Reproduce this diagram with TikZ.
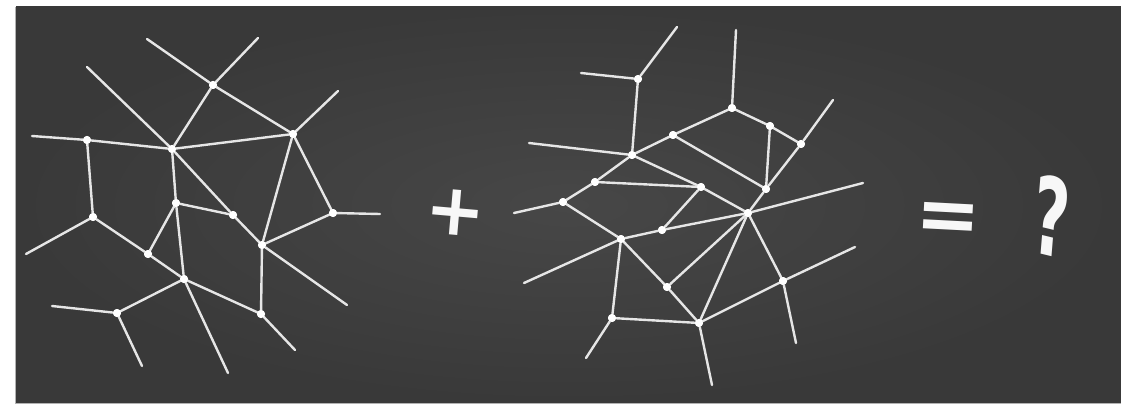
\documentclass[tikz,border=0pt]{standalone}
\usepackage{fontspec}
\newfontfamily\chalkfont{DejaVu Sans}
\definecolor{boardlight}{HTML}{474747}
\definecolor{boarddark}{HTML}{393939}
\definecolor{chalk}{HTML}{E6E6E6}
\begin{document}
\begin{tikzpicture}[x=1pt,y=-1pt,
  dot/.style={circle,fill=white,inner sep=0pt,minimum size=8pt},
  edge/.style={draw=chalk,line width=2.4pt,line cap=round},
  sym/.style={text=white!94!gray,inner sep=0pt}]
\useasboundingbox (0,0) rectangle (1121,406);
\fill[white] (0,0) rectangle (1121,406);
\shade[inner color=boardlight,outer color=boarddark] (16,7) rectangle (1121,403);
\draw[gray!60,line width=0.8pt] (15.5,7) -- (15.5,403.5) -- (1121,403.5);
% ---------- left graph ----------
\node[dot] (A) at (213,85) {};
\node[dot] (B) at (293,134) {};
\node[dot] (C) at (172,149) {};
\node[dot] (D) at (87,140) {};
\node[dot] (E) at (93,217) {};
\node[dot] (F) at (176,203) {};
\node[dot] (G) at (233,215) {};
\node[dot] (H) at (333,213) {};
\node[dot] (I) at (262,245) {};
\node[dot] (J) at (148,254) {};
\node[dot] (K) at (184,279) {};
\node[dot] (L) at (261,314) {};
\node[dot] (M) at (117,313) {};
\coordinate (a1) at (147,39);
\coordinate (a2) at (258,38);
\coordinate (b1) at (338,91);
\coordinate (c1) at (87,67);
\coordinate (i1) at (347,305);
\coordinate (d1) at (32,136);
\coordinate (e1) at (26,254);
\coordinate (k1) at (228,373);
\coordinate (m1) at (52,306);
\coordinate (m2) at (142,366);
\coordinate (l1) at (295,350);
\coordinate (h1) at (380,214);
\foreach \u/\v in {A/a1,A/a2,A/C,A/B,B/b1,B/C,B/H,B/I,C/c1,C/G,G/I,I/i1,C/F,C/D,D/d1,D/E,E/e1,E/J,J/K,J/F,F/K,F/G,K/M,K/L,K/k1,M/m1,M/m2,L/I,L/l1,H/h1,H/I}
  \draw[edge] (\u) -- (\v);
% ---------- right graph ----------
\node[dot] (P1) at (638,79) {};
\node[dot] (P2) at (632,155) {};
\node[dot] (P3) at (673,135) {};
\node[dot] (P4) at (732,108) {};
\node[dot] (P5) at (770,126) {};
\node[dot] (P6) at (801,144) {};
\node[dot] (P7) at (766,189) {};
\node[dot] (P8) at (595,182) {};
\node[dot] (P9) at (701,187) {};
\node[dot] (P10) at (563,202) {};
\node[dot] (P11) at (748,213) {};
\node[dot] (P12) at (662,230) {};
\node[dot] (P13) at (621,239) {};
\node[dot] (P14) at (667,287) {};
\node[dot] (P15) at (783,281) {};
\node[dot] (P16) at (612,318) {};
\node[dot] (P17) at (699,323) {};
\coordinate (p1a) at (677,27);
\coordinate (p1b) at (581,73);
\coordinate (p2a) at (529,143);
\coordinate (p4a) at (736,30);
\coordinate (p6a) at (833,100);
\coordinate (p10a) at (514,213);
\coordinate (p11a) at (863,183);
\coordinate (p13a) at (524,283);
\coordinate (p15a) at (855,247);
\coordinate (p15b) at (796,343);
\coordinate (p16a) at (586,358);
\coordinate (p17a) at (712,385);
\foreach \u/\v in {P1/p1a,P1/p1b,P1/P2,P2/p2a,P2/P3,P3/P4,P4/p4a,P4/P5,P5/P6,P6/p6a,P5/P7,P6/P7,P3/P7,P7/P11,P2/P8,P2/P9,P9/P11,P8/P9,P8/P10,P10/p10a,P10/P13,P13/P12,P12/P11,P9/P12,P13/p13a,P13/P14,P13/P16,P14/P17,P14/P11,P11/P17,P11/P15,P11/p11a,P15/P17,P15/p15a,P15/p15b,P16/P17,P16/p16a,P17/p17a}
  \draw[edge] (\u) -- (\v);
% dots drawn over the lines
\foreach \n in {A,B,C,D,E,F,G,H,I,J,K,L,M,P1,P2,P3,P4,P5,P6,P7,P8,P9,P10,P11,P12,P13,P14,P15,P16,P17}
  \fill[white] (\n) circle (4pt);
% ---------- symbols ----------
\node[sym,font=\chalkfont\bfseries\fontsize{72}{72}\selectfont,rotate=-5] (plus) at (456,213) {+};
\node[sym,font=\chalkfont\bfseries\fontsize{78}{78}\selectfont,rotate=-3] (eq) at (948,222) {=};
\node[sym,font=\chalkfont\bfseries\fontsize{108}{108}\selectfont,xscale=0.58,rotate=-8] (qm) at (1052,216) {?};
\end{tikzpicture}
\end{document}
